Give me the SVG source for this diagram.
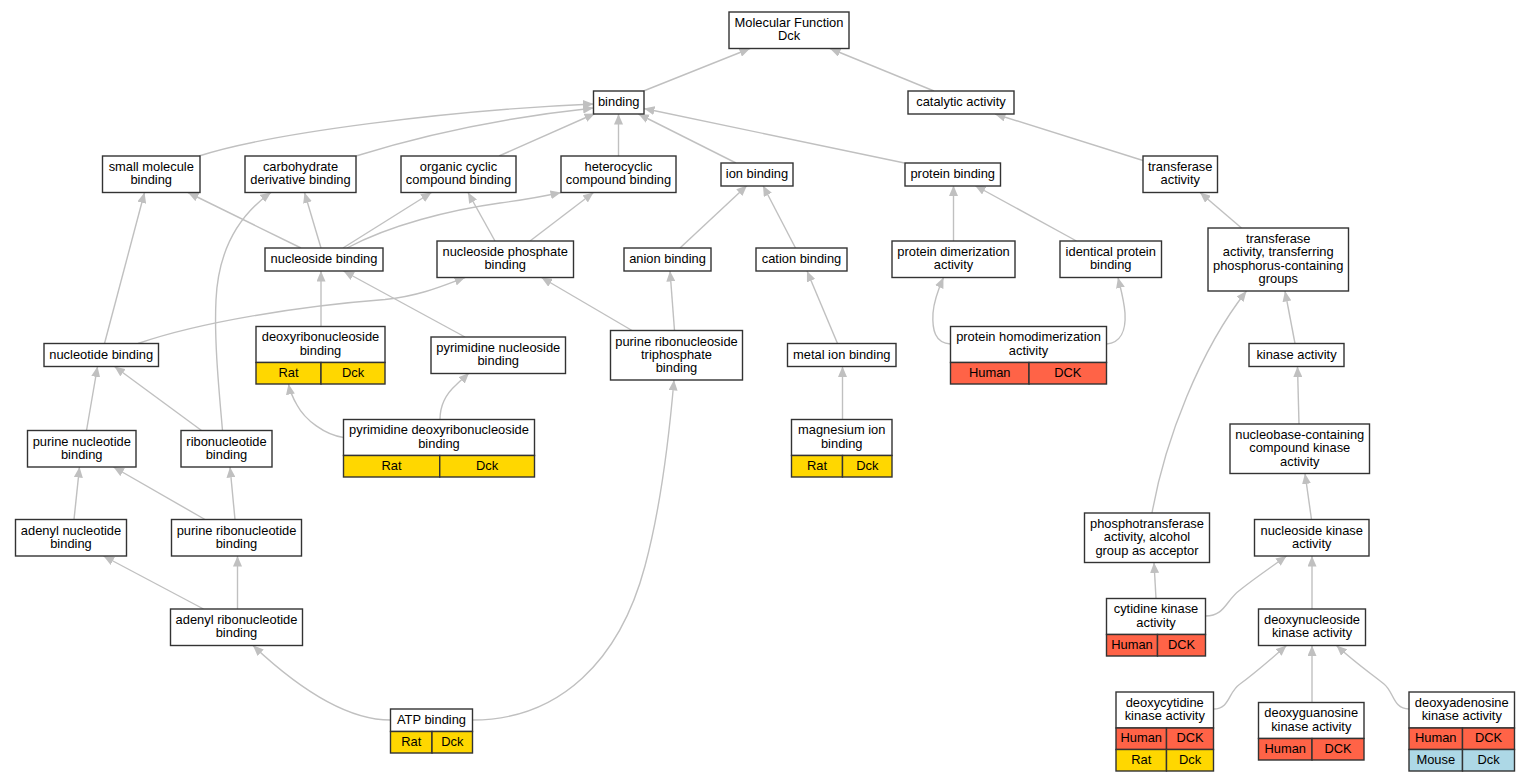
<svg xmlns="http://www.w3.org/2000/svg" width="1531" height="781" viewBox="0 0 1531 781">
<defs>
<style>
.box{fill:#fff;stroke:#333;stroke-width:1.4}
.hu{fill:#ff6347;stroke:#333;stroke-width:1.4}
.ra{fill:#ffd700;stroke:#333;stroke-width:1.4}
.mo{fill:#add8e6;stroke:#333;stroke-width:1.4}
.e{fill:none;stroke:#c0c0c0;stroke-width:1.4;marker-end:url(#ah)}
text{font-family:"Liberation Sans",Arial,Helvetica,sans-serif;font-size:12.9px;text-anchor:middle;fill:#000}
</style>
<marker id="ah" viewBox="0 0 10.5 9" refX="10.5" refY="4.5" markerWidth="10.5" markerHeight="9" markerUnits="userSpaceOnUse" orient="auto"><path d="M0,0 L10.5,4.5 L0,9 z" fill="#c0c0c0"/></marker>
</defs>
<rect width="1531" height="781" fill="#fff"/>
<g id="connectors">
<path class="e" d="M643.5,91 L750,48.5"/>
<path class="e" d="M934,91 L830,48.5"/>
<path class="e" d="M199,156 C270,133 450,110 593.5,104"/>
<path class="e" d="M356,156 C420,136 500,118 593.5,108"/>
<path class="e" d="M499,156 L595,113.5"/>
<path class="e" d="M618.5,156 L618.5,114"/>
<path class="e" d="M736,163 L638.5,114"/>
<path class="e" d="M904.5,163 L644,108.5"/>
<path class="e" d="M1143,160.5 L995,114"/>
<path class="e" d="M301,248 L188,192.5"/>
<path class="e" d="M321,248 L304.5,192.5"/>
<path class="e" d="M343,248 L431.5,192.5"/>
<path class="e" d="M347,248 C390,225 450,210 500,203 C530,199 545,196 561,192.5"/>
<path class="e" d="M495,241 L468,192.5"/>
<path class="e" d="M530,241 L593.5,192.5"/>
<path class="e" d="M680,248 L747,185.5"/>
<path class="e" d="M795.5,248 L763,185.5"/>
<path class="e" d="M953.5,241 L953.5,185.5"/>
<path class="e" d="M1076.5,241 L975,185.5"/>
<path class="e" d="M1241.5,228 L1200,192.5"/>
<path class="e" d="M104.5,343.5 L144.5,192.5"/>
<path class="e" d="M138,343.5 C200,322 300,306 385,299.5 C420,296 445,285 465,277.5"/>
<path class="e" d="M321,326.5 L321,271"/>
<path class="e" d="M465,337 L343.5,271"/>
<path class="e" d="M632,330.5 L541.5,277.5"/>
<path class="e" d="M674.5,330.5 L670,271"/>
<path class="e" d="M837.5,343.5 L807,271"/>
<path class="e" d="M950.5,344 C935,343 932,330 933,313 C934,300 938,290 943.5,277.5"/>
<path class="e" d="M1106.5,344 C1121,343 1126,330 1125,313 C1124,300 1121,290 1118,277.5"/>
<path class="e" d="M1295,343.5 L1285,291"/>
<path class="e" d="M86.5,430.5 L97.5,366.5"/>
<path class="e" d="M201.5,430.5 L114.5,366.5"/>
<path class="e" d="M222.5,430.5 C219,390 214,340 216,300 C218,255 235,218 271,192.5"/>
<path class="e" d="M343.5,437.5 C325,435 305,420 297,405 C293,398 290,392 288.5,384"/>
<path class="e" d="M440,419.5 C440,405 447,393 456,385 C461,380 465,377 469,373"/>
<path class="e" d="M842.5,419.5 L842.5,366.5"/>
<path class="e" d="M1299,424 L1297.5,366.5"/>
<path class="e" d="M74,519.5 L79.5,467"/>
<path class="e" d="M205,519.5 L113.5,467"/>
<path class="e" d="M235,519.5 L230,467"/>
<path class="e" d="M1152,513 C1165,440 1200,350 1246.5,291"/>
<path class="e" d="M1311.5,519.5 L1305,473.5"/>
<path class="e" d="M203.5,609 L103.5,556"/>
<path class="e" d="M237.5,609 L237.5,556"/>
<path class="e" d="M1156,598.5 L1154,562.5"/>
<path class="e" d="M1205.5,616 C1225,616 1226,600 1240,590 C1255,578 1270,568 1286.5,556"/>
<path class="e" d="M1312,609 L1312,556"/>
<path class="e" d="M390.5,720 C345,720 295,685 253,645.5"/>
<path class="e" d="M472.5,720 C560,720 620,660 645,566 C660,510 668,450 674,380"/>
<path class="e" d="M1213.5,709 C1230,709 1228,692 1240,684 C1255,673 1270,660 1286.5,645.5"/>
<path class="e" d="M1312,702.5 L1312,645.5"/>
<path class="e" d="M1409,709 C1393,709 1394,692 1384,684 C1370,673 1352,660 1336.5,645.5"/>
</g>
<g id="n_mf"><rect class="box" x="729" y="12" width="120" height="36.5"/><text x="789" y="27.1">Molecular Function</text><text x="789" y="40.4">Dck</text></g>
<g id="n_binding"><rect class="box" x="593.5" y="91" width="50.5" height="23"/><text x="618.75" y="106">binding</text></g>
<g id="n_catalytic"><rect class="box" x="908" y="91" width="106" height="23"/><text x="961" y="106">catalytic activity</text></g>
<g id="n_smallmol"><rect class="box" x="102.5" y="156" width="97.5" height="36.5"/><text x="151.25" y="171.1">small molecule</text><text x="151.25" y="184.4">binding</text></g>
<g id="n_carbo"><rect class="box" x="245" y="156" width="111" height="36.5"/><text x="300.5" y="171.1">carbohydrate</text><text x="300.5" y="184.4">derivative binding</text></g>
<g id="n_organic"><rect class="box" x="401" y="156" width="115" height="36.5"/><text x="458.5" y="171.1">organic cyclic</text><text x="458.5" y="184.4">compound binding</text></g>
<g id="n_hetero"><rect class="box" x="561" y="156" width="115" height="36.5"/><text x="618.5" y="171.1">heterocyclic</text><text x="618.5" y="184.4">compound binding</text></g>
<g id="n_ion"><rect class="box" x="721" y="163" width="72" height="23"/><text x="757" y="178">ion binding</text></g>
<g id="n_protein"><rect class="box" x="905" y="163" width="95.5" height="23"/><text x="952.75" y="178">protein binding</text></g>
<g id="n_transferase"><rect class="box" x="1143" y="156" width="74.5" height="36.5"/><text x="1180.25" y="171.1">transferase</text><text x="1180.25" y="184.4">activity</text></g>
<g id="n_nucleoside"><rect class="box" x="265" y="248" width="118" height="23"/><text x="324" y="263">nucleoside binding</text></g>
<g id="n_nucphos"><rect class="box" x="437" y="241" width="136.5" height="36.5"/><text x="505.25" y="256.1">nucleoside phosphate</text><text x="505.25" y="269.4">binding</text></g>
<g id="n_anion"><rect class="box" x="624" y="248" width="87" height="23"/><text x="667.5" y="263">anion binding</text></g>
<g id="n_cation"><rect class="box" x="756" y="248" width="91" height="23"/><text x="801.5" y="263">cation binding</text></g>
<g id="n_dimer"><rect class="box" x="892" y="241" width="123" height="36.5"/><text x="953.5" y="256.1">protein dimerization</text><text x="953.5" y="269.4">activity</text></g>
<g id="n_identical"><rect class="box" x="1060" y="241" width="101.5" height="36.5"/><text x="1110.75" y="256.1">identical protein</text><text x="1110.75" y="269.4">binding</text></g>
<g id="n_transferring"><rect class="box" x="1208" y="228" width="140.5" height="63"/><text x="1278.25" y="243">transferase</text><text x="1278.25" y="256.4">activity, transferring</text><text x="1278.25" y="269.7">phosphorus-containing</text><text x="1278.25" y="283">groups</text></g>
<g id="n_nucleotide"><rect class="box" x="44" y="343.5" width="114.5" height="23"/><text x="101.25" y="358.5">nucleotide binding</text></g>
<g id="n_deoxyribo"><rect class="box" x="256" y="326.5" width="129" height="36"/><rect class="ra" x="256" y="362.5" width="65" height="21.5"/><rect class="ra" x="321" y="362.5" width="64" height="21.5"/><text x="320.5" y="341.4">deoxyribonucleoside</text><text x="320.5" y="354.7">binding</text><text x="288.5" y="376.8">Rat</text><text x="353" y="376.8">Dck</text></g>
<g id="n_pyrnuc"><rect class="box" x="431" y="337" width="134.5" height="36.5"/><text x="498.25" y="352.1">pyrimidine nucleoside</text><text x="498.25" y="365.4">binding</text></g>
<g id="n_purtri"><rect class="box" x="610.5" y="330.5" width="132" height="49.5"/><text x="676.5" y="345.5">purine ribonucleoside</text><text x="676.5" y="358.8">triphosphate</text><text x="676.5" y="372.1">binding</text></g>
<g id="n_metal"><rect class="box" x="787.5" y="343.5" width="108.5" height="23"/><text x="841.75" y="358.5">metal ion binding</text></g>
<g id="n_homodim"><rect class="box" x="950.5" y="326.5" width="156" height="36"/><rect class="hu" x="950.5" y="362.5" width="78.5" height="21.5"/><rect class="hu" x="1029" y="362.5" width="77.5" height="21.5"/><text x="1028.5" y="341.4">protein homodimerization</text><text x="1028.5" y="354.7">activity</text><text x="989.75" y="376.8">Human</text><text x="1067.75" y="376.8">DCK</text></g>
<g id="n_kinase"><rect class="box" x="1249" y="343.5" width="95" height="23"/><text x="1296.5" y="358.5">kinase activity</text></g>
<g id="n_purnuc"><rect class="box" x="27.5" y="430.5" width="108.5" height="36.5"/><text x="81.75" y="445.6">purine nucleotide</text><text x="81.75" y="458.9">binding</text></g>
<g id="n_ribonuc"><rect class="box" x="181" y="430.5" width="91" height="36.5"/><text x="226.5" y="445.6">ribonucleotide</text><text x="226.5" y="458.9">binding</text></g>
<g id="n_pyrdeoxy"><rect class="box" x="343.5" y="419.5" width="191" height="36"/><rect class="ra" x="343.5" y="455.5" width="96.25" height="21.5"/><rect class="ra" x="439.75" y="455.5" width="94.75" height="21.5"/><text x="439" y="434.4">pyrimidine deoxyribonucleoside</text><text x="439" y="447.7">binding</text><text x="391.6" y="469.8">Rat</text><text x="487.1" y="469.8">Dck</text></g>
<g id="n_magnesium"><rect class="box" x="791.5" y="419.5" width="100.5" height="36"/><rect class="ra" x="791.5" y="455.5" width="51" height="21.5"/><rect class="ra" x="842.5" y="455.5" width="49.5" height="21.5"/><text x="841.75" y="434.4">magnesium ion</text><text x="841.75" y="447.7">binding</text><text x="817" y="469.8">Rat</text><text x="867.25" y="469.8">Dck</text></g>
<g id="n_nucleobase"><rect class="box" x="1230" y="424" width="139.5" height="49.5"/><text x="1299.75" y="439">nucleobase-containing</text><text x="1299.75" y="452.3">compound kinase</text><text x="1299.75" y="465.6">activity</text></g>
<g id="n_adenylnuc"><rect class="box" x="15.5" y="519.5" width="111" height="36.5"/><text x="71" y="534.6">adenyl nucleotide</text><text x="71" y="547.9">binding</text></g>
<g id="n_purribo"><rect class="box" x="171.5" y="519.5" width="130" height="36.5"/><text x="236.5" y="534.6">purine ribonucleotide</text><text x="236.5" y="547.9">binding</text></g>
<g id="n_phosphotrans"><rect class="box" x="1084.5" y="513" width="125" height="49.5"/><text x="1147" y="528">phosphotransferase</text><text x="1147" y="541.3">activity, alcohol</text><text x="1147" y="554.6">group as acceptor</text></g>
<g id="n_nuckinase"><rect class="box" x="1254.5" y="519.5" width="114.5" height="36.5"/><text x="1311.75" y="534.6">nucleoside kinase</text><text x="1311.75" y="547.9">activity</text></g>
<g id="n_adenylribo"><rect class="box" x="170.5" y="609" width="132" height="36.5"/><text x="236.5" y="624.1">adenyl ribonucleotide</text><text x="236.5" y="637.4">binding</text></g>
<g id="n_cytidine"><rect class="box" x="1106.5" y="598.5" width="99" height="36"/><rect class="hu" x="1106.5" y="634.5" width="51" height="21.5"/><rect class="hu" x="1157.5" y="634.5" width="48" height="21.5"/><text x="1156" y="613.4">cytidine kinase</text><text x="1156" y="626.7">activity</text><text x="1132" y="648.8">Human</text><text x="1181.5" y="648.8">DCK</text></g>
<g id="n_deoxynuc"><rect class="box" x="1258.5" y="609" width="107" height="36.5"/><text x="1312" y="624.1">deoxynucleoside</text><text x="1312" y="637.4">kinase activity</text></g>
<g id="n_atp"><rect class="box" x="390.5" y="709" width="82" height="22.5"/><rect class="ra" x="390.5" y="731.5" width="41.5" height="21.5"/><rect class="ra" x="432" y="731.5" width="40.5" height="21.5"/><text x="431.5" y="723.8">ATP binding</text><text x="411.25" y="745.8">Rat</text><text x="452.25" y="745.8">Dck</text></g>
<g id="n_deoxycyt"><rect class="box" x="1116" y="692" width="97.5" height="36"/><rect class="hu" x="1116" y="728" width="50.5" height="21.5"/><rect class="hu" x="1166.5" y="728" width="47" height="21.5"/><rect class="ra" x="1116" y="749.5" width="50.5" height="21.5"/><rect class="ra" x="1166.5" y="749.5" width="47" height="21.5"/><text x="1164.75" y="706.9">deoxycytidine</text><text x="1164.75" y="720.2">kinase activity</text><text x="1141.25" y="742.3">Human</text><text x="1190" y="742.3">DCK</text><text x="1141.25" y="763.8">Rat</text><text x="1190" y="763.8">Dck</text></g>
<g id="n_deoxyguan"><rect class="box" x="1258.5" y="702.5" width="105.5" height="36"/><rect class="hu" x="1258.5" y="738.5" width="53.5" height="21.5"/><rect class="hu" x="1312" y="738.5" width="52" height="21.5"/><text x="1311.25" y="717.4">deoxyguanosine</text><text x="1311.25" y="730.7">kinase activity</text><text x="1285.25" y="752.8">Human</text><text x="1338" y="752.8">DCK</text></g>
<g id="n_deoxyaden"><rect class="box" x="1409" y="692" width="105.5" height="36"/><rect class="hu" x="1409" y="728" width="53.5" height="21.5"/><rect class="hu" x="1462.5" y="728" width="52" height="21.5"/><rect class="mo" x="1409" y="749.5" width="53.5" height="21.5"/><rect class="mo" x="1462.5" y="749.5" width="52" height="21.5"/><text x="1461.75" y="706.9">deoxyadenosine</text><text x="1461.75" y="720.2">kinase activity</text><text x="1435.75" y="742.3">Human</text><text x="1488.5" y="742.3">DCK</text><text x="1435.75" y="763.8">Mouse</text><text x="1488.5" y="763.8">Dck</text></g>
</svg>
